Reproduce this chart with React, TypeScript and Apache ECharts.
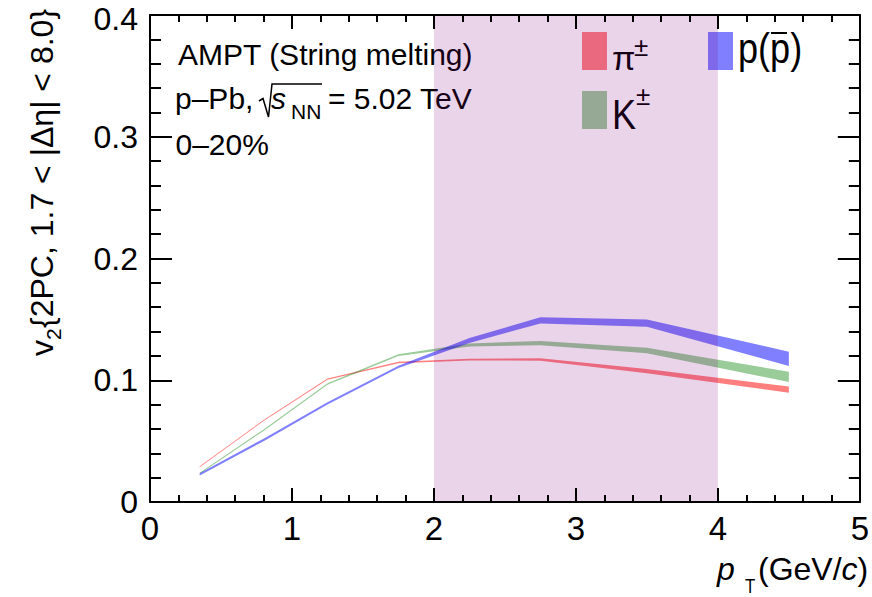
import { useEffect, useRef } from 'react';
import * as echarts from 'echarts';

// pT bin centres (GeV/c)
const pT = [0.35, 0.8, 1.25, 1.75, 2.25, 2.75, 3.5, 4.5];
// v2 values and band half-widths
const pionV2 = [0.029, 0.067, 0.101, 0.1145, 0.117, 0.117, 0.1075, 0.0923];
const pionErr = [0.0004, 0.0004, 0.0005, 0.0006, 0.0007, 0.001, 0.0018, 0.0025];
const kaonV2 = [0.0235, 0.059, 0.097, 0.1207, 0.129, 0.1305, 0.1244, 0.1028];
const kaonErr = [0.0006, 0.0006, 0.0006, 0.0007, 0.0012, 0.0018, 0.0023, 0.0042];
const protonV2 = [0.0227, 0.051, 0.081, 0.111, 0.1326, 0.1492, 0.147, 0.1176];
const protonErr = [0.001, 0.001, 0.001, 0.001, 0.002, 0.0025, 0.003, 0.0059];
// shaded pT range
const highlightRange = [2, 4];

const FONT = '"Liberation Sans", Arial, Helvetica, sans-serif';
const RED = 'rgba(255,0,0,0.5)';
const GREEN = 'rgba(0,128,0,0.4)';
const BLUE = 'rgba(0,0,255,0.5)';
const BANDCOL = 'rgba(128,0,128,0.17)';
const KB = 0.33;

function txt(text: string, left: number, baseline: number, size: number, opts: any = {}) {
  const { style, ...el } = opts;
  return {
    type: 'text',
    x: left,
    y: baseline - KB * size,
    z: 1,
    silent: true,
    ...el,
    style: {
      text,
      fontSize: size,
      fontFamily: FONT,
      fill: '#000',
      align: 'left',
      verticalAlign: 'middle',
      ...(style || {}),
    },
  };
}

function rotTxt(text: string, baselineX: number, startY: number, size: number, opts: any = {}) {
  const { style, ...el } = opts;
  return {
    type: 'text',
    x: baselineX - KB * size,
    y: startY,
    rotation: Math.PI / 2,
    z: 1,
    silent: true,
    ...el,
    style: {
      text,
      fontSize: size,
      fontFamily: FONT,
      fill: '#000',
      align: 'left',
      verticalAlign: 'middle',
      ...(style || {}),
    },
  };
}

function bandSeries(name: string, vals: number[], errs: number[], color: string, z: number) {
  return {
    type: 'custom',
    name,
    z,
    coordinateSystem: 'cartesian2d',
    xAxisIndex: 0,
    yAxisIndex: 0,
    silent: true,
    data: pT.map((x, i) => [x, vals[i] - errs[i], vals[i] + errs[i]]),
    encode: { x: 0, y: [1, 2] },
    renderItem: (params: any, api: any) => {
      if (params.dataIndex !== 0) return null;
      const upper = pT.map((x, i) => api.coord([x, vals[i] + errs[i]]));
      const lower = pT.map((x, i) => api.coord([x, vals[i] - errs[i]])).reverse();
      return {
        type: 'polygon',
        shape: { points: upper.concat(lower) },
        style: { fill: color, stroke: null },
      };
    },
  };
}

export default function App() {
  const ref = useRef<HTMLDivElement>(null);
  useEffect(() => {
    if (!ref.current) return;
    const chart = echarts.init(ref.current, undefined, { renderer: 'svg' });

    const axisLine = { show: true, onZero: false, lineStyle: { color: '#000', width: 2 } };
    const xAxisCommon = {
      type: 'value',
      min: 0,
      max: 5,
      interval: 1,
      splitLine: { show: false },
      axisLine,
      z: 10,
    };
    const yAxisCommon = {
      type: 'value',
      min: 0,
      max: 0.4,
      interval: 0.1,
      splitLine: { show: false },
      axisLine,
      z: 10,
    };

    const option: any = {
      animation: false,
      backgroundColor: '#fff',
      grid: { left: 150, right: 12, top: 15, bottom: 95, containLabel: false },
      xAxis: [
        {
          ...xAxisCommon,
          position: 'bottom',
          axisTick: { show: true, inside: true, length: 14, lineStyle: { color: '#000', width: 2 } },
          minorTick: { show: true, splitNumber: 5, length: 7, lineStyle: { color: '#000', width: 2 } },
          axisLabel: {
            show: true,
            margin: 10,
            fontSize: 33,
            fontFamily: FONT,
            color: '#000',
            formatter: (v: number) => String(v),
          },
        },
        {
          ...xAxisCommon,
          position: 'top',
          axisTick: { show: true, inside: true, length: 14, lineStyle: { color: '#000', width: 2 } },
          minorTick: { show: true, splitNumber: 5, length: 7, lineStyle: { color: '#000', width: 2 } },
          axisLabel: { show: false },
        },
      ],
      yAxis: [
        {
          ...yAxisCommon,
          position: 'left',
          axisTick: { show: true, inside: true, length: 22, lineStyle: { color: '#000', width: 2 } },
          minorTick: { show: true, splitNumber: 5, length: 11, lineStyle: { color: '#000', width: 2 } },
          axisLabel: {
            show: true,
            margin: 12,
            fontSize: 32,
            fontFamily: FONT,
            color: '#000',
            formatter: (v: number) =>
              v === 0 ? '0' : Math.abs(v - 0.4) < 1e-9 ? '{t|0.4}' : v.toFixed(1),
            rich: {
              t: { fontSize: 32, fontFamily: FONT, color: '#000', padding: [7, 0, 0, 0] },
            },
          },
        },
        {
          ...yAxisCommon,
          position: 'right',
          axisTick: { show: true, inside: true, length: 22, lineStyle: { color: '#000', width: 2 } },
          minorTick: { show: true, splitNumber: 5, length: 11, lineStyle: { color: '#000', width: 2 } },
          axisLabel: { show: false },
        },
      ],
      series: [
        bandSeries('pion', pionV2, pionErr, RED, 2),
        bandSeries('kaon', kaonV2, kaonErr, GREEN, 3),
        bandSeries('proton', protonV2, protonErr, BLUE, 4),
        {
          type: 'custom',
          name: 'range',
          z: 6,
          silent: true,
          coordinateSystem: 'cartesian2d',
          xAxisIndex: 0,
          yAxisIndex: 0,
          data: [[highlightRange[0], highlightRange[1]]],
          encode: { x: [0, 1] },
          renderItem: (_params: any, api: any) => {
            const p0 = api.coord([api.value(0), 0.4]);
            const p1 = api.coord([api.value(1), 0]);
            return {
              type: 'rect',
              shape: { x: p0[0], y: p0[1], width: p1[0] - p0[0], height: p1[1] - p0[1] },
              style: { fill: BANDCOL },
            };
          },
        },
      ],
      graphic: [
        // header text
        txt('AMPT (String melting)', 178, 64, 30),
        txt('p–Pb,', 175, 108, 30),
        {
          type: 'polyline',
          z: 1,
          silent: true,
          shape: { points: [[259, 101], [263, 98.5], [268.5, 117], [272, 84], [322, 84]] },
          style: { stroke: '#000', lineWidth: 1.5, fill: null },
        },
        txt('s', 271, 108, 30, { style: { fontStyle: 'italic' } }),
        txt('NN', 291, 118, 21),
        txt('= 5.02 TeV', 328, 108, 30),
        txt('0–20%', 175.5, 154, 30),
        // legend
        { type: 'rect', z: 1, silent: true, shape: { x: 582, y: 32, width: 25, height: 38 }, style: { fill: RED } },
        { type: 'rect', z: 1, silent: true, shape: { x: 582, y: 91, width: 25, height: 38 }, style: { fill: GREEN } },
        { type: 'rect', z: 1, silent: true, shape: { x: 708, y: 32, width: 25, height: 38 }, style: { fill: BLUE } },
        txt('π', 612, 69, 34),
        txt('±', 634, 56, 26),
        txt('K', 612, 128, 42, { scaleX: 0.86 }),
        txt('±', 636, 105, 26),
        txt('p(p)', 738, 62, 42, { scaleX: 0.86 }),
        {
          type: 'line',
          z: 1,
          silent: true,
          shape: { x1: 771, y1: 33, x2: 787, y2: 33 },
          style: { stroke: '#000', lineWidth: 2 },
        },
        // x-axis title
        txt('p', 717, 580, 32, { style: { fontStyle: 'italic' } }),
        txt('T', 745, 593, 21, { scaleX: 0.8 }),
        txt('(GeV/{i|c})', 758, 580, 32, {
          style: { rich: { i: { fontStyle: 'italic', fontSize: 32, fontFamily: FONT } } },
        }),
        // y-axis title (rotated)
        rotTxt('v', 53, 356, 32),
        rotTxt('2', 60, 340, 21),
        rotTxt('{2PC, 1.7 < |Δη| < 8.0}', 53, 328, 32),
      ],
    };

    chart.setOption(option);
    return () => chart.dispose();
  }, []);

  return (
    <div
      ref={ref}
      style={{ position: 'fixed', left: 0, top: 0, width: 872, height: 597, background: '#fff' }}
    />
  );
}
